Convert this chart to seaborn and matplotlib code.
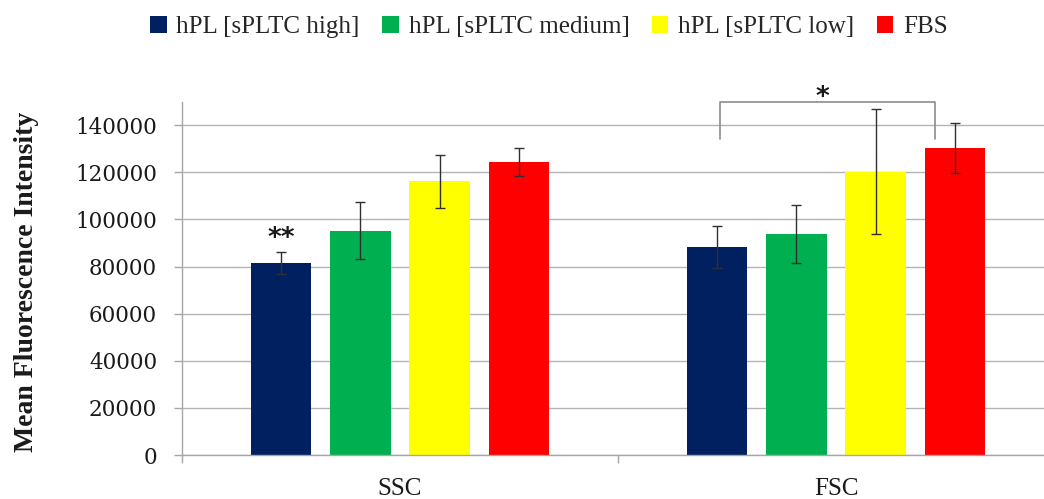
import numpy as np
import pandas as pd
import matplotlib
matplotlib.use("Agg")
import matplotlib.pyplot as plt
import seaborn as sns
from matplotlib.patches import Patch

# Mean fluorescence intensity per scatter parameter and culture supplement
groups = ["SSC", "FSC"]
conditions = ["hPL [sPLTC high]", "hPL [sPLTC medium]", "hPL [sPLTC low]", "FBS"]
ssc_mean = [81500, 95300, 116200, 124500]
ssc_err = [4800, 12200, 11300, 6000]
fsc_mean = [88300, 93800, 120200, 130400]
fsc_err = [8800, 12400, 26500, 10700]
y_ticks = [0, 20000, 40000, 60000, 80000, 100000, 120000, 140000]

colors = ["#002060", "#00B050", "#FFFF00", "#FF0000"]

rows = []
for g, means, errs in [("SSC", ssc_mean, ssc_err), ("FSC", fsc_mean, fsc_err)]:
    for c, m, e in zip(conditions, means, errs):
        rows.append({"group": g, "condition": c, "mfi": m, "sd": e})
df = pd.DataFrame(rows)

sns.set_style("white")
plt.rcParams["font.family"] = ["DejaVu Serif"]

fig = plt.figure(figsize=(10.44, 4.99), dpi=100)
ax = fig.add_axes([182 / 1044, (499 - 455) / 499, (1044 - 182) / 1044, (455 - 101.7) / 499])

sns.barplot(data=df, x="group", y="mfi", hue="condition", order=groups,
            hue_order=conditions, palette=colors, width=0.725, gap=0.24,
            errorbar=None, saturation=1, linewidth=0, ax=ax, legend=False)

# error bars centred on each bar
for cont, cond in zip(ax.containers, conditions):
    sub = df[df["condition"] == cond].set_index("group").loc[groups]
    xs = [b.get_x() + b.get_width() / 2 for b in cont]
    ax.errorbar(xs, sub["mfi"].values, yerr=sub["sd"].values, fmt="none",
                ecolor="#303030", elinewidth=1.0, capsize=3.5, capthick=1.0, zorder=4)

ax.set_xlim(-0.5, 1.5 - 10 / 436)
ax.set_ylim(0, 150000)
ax.set_yticks(y_ticks)
ax.set_yticklabels([str(v) for v in y_ticks], fontsize=15.5, color="#1a1a1a")
ax.yaxis.grid(True, color="#b4b4b4", linewidth=1.0)
ax.set_axisbelow(True)

for s in ["top", "right"]:
    ax.spines[s].set_visible(False)
for s in ["left", "bottom"]:
    ax.spines[s].set_color("#a6a6a6")
    ax.spines[s].set_linewidth(1.0)

ax.tick_params(axis="y", length=6, width=1.0, color="#a6a6a6", pad=12, left=True)
ax.tick_params(axis="x", which="major", length=0, pad=16.5, labelcolor="#1a1a1a")
for lbl in ax.get_xticklabels():
    lbl.set_fontfamily("Liberation Serif")
    lbl.set_fontsize(18)
ax.set_xticks([-0.5, 0.5], minor=True)
ax.tick_params(axis="x", which="minor", length=6, width=1.0, color="#a6a6a6", bottom=True)

ax.set_xlabel("")
ax.set_ylabel("Mean Fluorescence Intensity", fontsize=20, fontweight="bold",
              family="Liberation Serif", color="#1a1a1a")
ax.yaxis.set_label_coords(-0.166, 0.49)

# significance marks
ax.text(-0.272, 91800, "**", ha="center", va="center", fontsize=19, fontweight="bold",
        family="DejaVu Sans", color="#1a1a1a")
bx0, bx1 = 0.735, 1.228
ax.plot([bx0, bx0, bx1, bx1], [134000, 149800, 149800, 134000], color="#8c8c8c",
        linewidth=1.2, clip_on=False, zorder=5)
ax.text(0.969, 151600, "*", ha="center", va="center", fontsize=19, fontweight="bold",
        family="DejaVu Sans", color="#1a1a1a", clip_on=False)

handles = [Patch(facecolor=c, edgecolor="none") for c in colors]
fig.legend(handles, conditions, loc="center", bbox_to_anchor=(549 / 1044, 1 - 27 / 499),
           ncol=4, frameon=False, handlelength=0.65, handleheight=0.65,
           handletextpad=0.4, columnspacing=0.9,
           prop={"family": "Liberation Serif", "size": 18})

fig.savefig("out.png", dpi=100)
